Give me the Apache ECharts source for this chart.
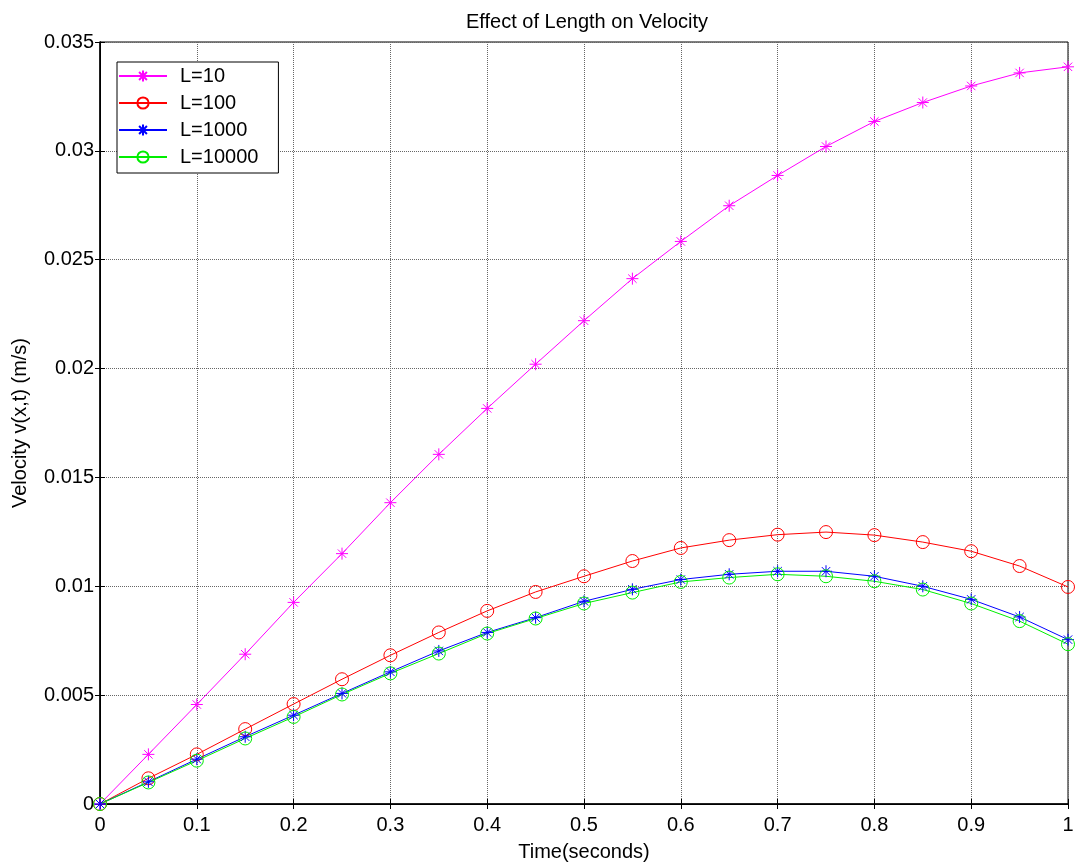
<!DOCTYPE html>
<html>
<head>
<meta charset="utf-8">
<script src="https://cdn.jsdelivr.net/npm/echarts@6/dist/echarts.min.js"></script>
<style>
  html, body { margin: 0; padding: 0; background: #fff; }
  #chart { width: 1082px; height: 868px; }
</style>
</head>
<body>
<div id="chart"></div>
<script>
// time steps (seconds)
const times = [0, 0.05, 0.1, 0.15, 0.2, 0.25, 0.3, 0.35, 0.4, 0.45, 0.5,
  0.55, 0.6, 0.65, 0.7, 0.75, 0.8, 0.85, 0.9, 0.95, 1];

// velocity for each length
const vL10 = [0, 0.00228, 0.00457, 0.00688, 0.00926, 0.0115, 0.01384, 0.01606, 0.01817, 0.0202, 0.0222,
  0.02413, 0.02584, 0.02748, 0.02887, 0.0302, 0.03135, 0.03222, 0.03298, 0.03358, 0.03386];
const vL100 = [0, 0.00118, 0.00228, 0.00344, 0.00459, 0.00573, 0.00683, 0.00788, 0.00887, 0.00974, 0.01046,
  0.01116, 0.01176, 0.01212, 0.01237, 0.01249, 0.01235, 0.01203, 0.01161, 0.01093, 0.00997];
const vL1000 = [0, 0.00102, 0.00206, 0.00309, 0.00408, 0.00508, 0.00607, 0.00703, 0.00788, 0.00856, 0.00931,
  0.00986, 0.01031, 0.01055, 0.01069, 0.01069, 0.01046, 0.0100, 0.0094, 0.00859, 0.00755];
const vL10000 = [0, 0.00099, 0.00199, 0.00301, 0.004, 0.00503, 0.006, 0.00691, 0.00783, 0.00852, 0.00921,
  0.00971, 0.0102, 0.0104, 0.01055, 0.01046, 0.01023, 0.00985, 0.00921, 0.0084, 0.00734];

const seriesNames = ['L=10', 'L=100', 'L=1000', 'L=10000'];
const xTicks = { min: 0, max: 1, interval: 0.1 };
const yTicks = { min: 0, max: 0.035, interval: 0.005 };

const FONT = 'Liberation Sans, Arial, sans-serif';
const asterisk = 'path://M5,0L5,10M0,5L10,5M1.5,1.5L8.5,8.5M1.5,8.5L8.5,1.5';

const pairs = (vals) => times.map((t, i) => [t, vals[i]]);

// 線條樣式
function makeSeries(name, vals, color, marker) {
  const isStar = marker === 'star';
  return {
    name: name,
    type: 'line',
    data: pairs(vals),
    showAllSymbol: true,
    symbol: isStar ? asterisk : 'circle',
    symbolSize: isStar ? 12 : 13,
    lineStyle: { color: color, width: 1 },
    itemStyle: {
      color: 'rgba(0,0,0,0)',
      borderColor: color,
      borderWidth: 1,
    },
    emphasis: { disabled: true },
  };
}

const chart = echarts.init(document.getElementById('chart'));

const tickStyle = { inside: true, length: 5, lineStyle: { color: '#000', width: 1 } };

const option = {
  animation: false,
  backgroundColor: '#fff',
  title: {
    text: 'Effect of Length on Velocity',
    left: 582,
    top: 7,
    textAlign: 'center',
    textStyle: { fontFamily: FONT, fontSize: 20, fontWeight: 'normal', color: '#000' },
  },
  legend: {
    data: seriesNames,
    orient: 'vertical',
    left: 117,
    top: 62,
    padding: [4, 20, 6, 1],
    itemWidth: 48,
    itemHeight: 14,
    itemGap: 7,
    backgroundColor: '#fff',
    borderColor: '#000',
    borderWidth: 1,
    textStyle: { fontFamily: FONT, fontSize: 20, color: '#000', padding: [0, 0, 0, 8] },
  },
  grid: {
    left: 100,
    right: 14,
    top: 42,
    bottom: 64,
    show: true,
    borderColor: '#000',
    borderWidth: 1,
  },
  xAxis: [
    {
      type: 'value',
      ...xTicks,
      name: 'Time(seconds)',
      nameLocation: 'middle',
      nameGap: 38,
      nameTextStyle: { fontFamily: FONT, fontSize: 20, color: '#000' },
      axisLine: { lineStyle: { color: '#000', width: 1.5 } },
      axisTick: tickStyle,
      axisLabel: { fontFamily: FONT, fontSize: 20, color: '#000', margin: 11 },
      splitLine: { show: true, lineStyle: { color: '#666', type: 'dotted' } },
    },
    {
      type: 'value',
      position: 'top',
      ...xTicks,
      axisLine: { show: true, lineStyle: { color: '#000' } },
      axisTick: tickStyle,
      axisLabel: { show: false },
      splitLine: { show: false },
    },
  ],
  yAxis: [
    {
      type: 'value',
      ...yTicks,
      name: 'Velocity v(x,t) (m/s)',
      nameLocation: 'middle',
      nameGap: 70,
      nameTextStyle: { fontFamily: FONT, fontSize: 20, color: '#000' },
      axisLine: { show: true, lineStyle: { color: '#000', width: 1.5 } },
      axisTick: tickStyle,
      axisLabel: { fontFamily: FONT, fontSize: 20, color: '#000', margin: 6 },
      splitLine: { show: true, lineStyle: { color: '#666', type: 'dotted' } },
    },
    {
      type: 'value',
      position: 'right',
      ...yTicks,
      axisLine: { show: true, lineStyle: { color: '#000' } },
      axisTick: tickStyle,
      axisLabel: { show: false },
      splitLine: { show: false },
    },
  ],
  series: [
    makeSeries(seriesNames[0], vL10, '#ff00ff', 'star'),
    makeSeries(seriesNames[1], vL100, '#ff0000', 'circle'),
    makeSeries(seriesNames[2], vL1000, '#0000ff', 'star'),
    makeSeries(seriesNames[3], vL10000, '#00ee00', 'circle'),
  ],
};

chart.setOption(option);
</script>
</body>
</html>
